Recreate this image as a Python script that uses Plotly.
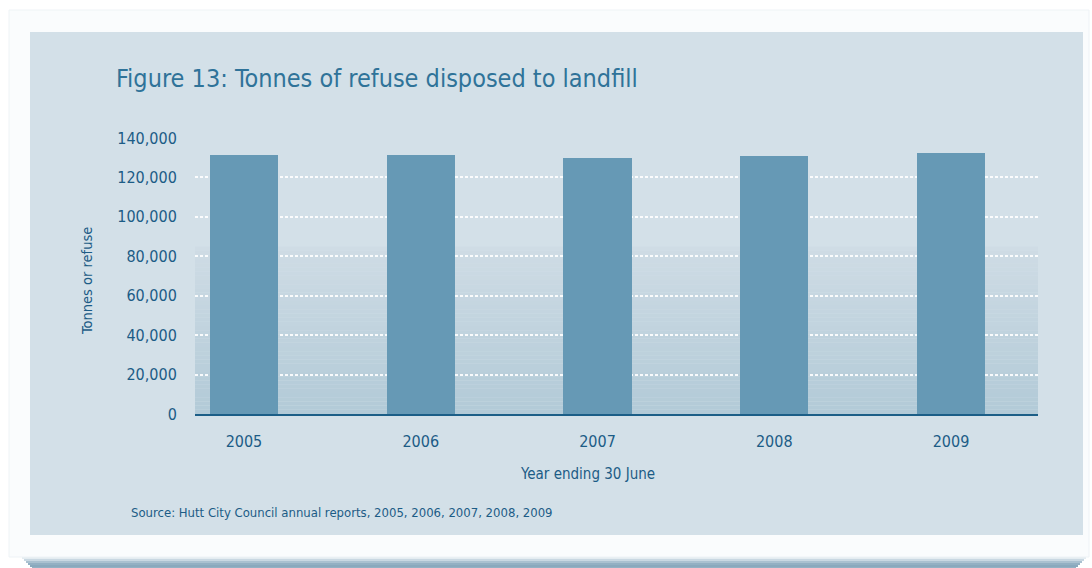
import plotly.graph_objects as go

# Annual tonnes of refuse sent to landfill (year ending 30 June)
years = ["2005", "2006", "2007", "2008", "2009"]
tonnes = [131400, 131400, 129900, 130900, 132400]
y_ticks = [0, 20000, 40000, 60000, 80000, 100000, 120000, 140000]
y_tick_labels = ["0", "20,000", "40,000", "60,000", "80,000", "100,000", "120,000", "140,000"]

FONT = "Liberation Sans Narrow, DejaVu Sans Condensed, Arial Narrow, sans-serif"
TEXT_DARK = "#1c5c86"
TITLE_COL = "#2f7399"
BAR_COL = "#6699b5"
PANEL_COL = "#d3e0e8"

W_PX, H_PX = 1092, 568
L, R, T, B = 195, 54, 138, 154
PW, PH = W_PX - L - R, H_PX - T - B


def px_x(px):
    return (px - L) / PW


def px_y(py):
    return (H_PX - B - py) / PH


def hex_rgb(h):
    h = h.lstrip("#")
    return tuple(int(h[i:i + 2], 16) for i in (0, 2, 4))


def mix(c0, c1, t):
    a, b = hex_rgb(c0), hex_rgb(c1)
    return "rgb(%d,%d,%d)" % tuple(round(a[i] + (b[i] - a[i]) * t) for i in range(3))


x_pos = list(range(len(years)))

fig = go.Figure(
    go.Bar(
        x=x_pos,
        y=tonnes,
        width=0.385,
        marker=dict(color=BAR_COL, line=dict(width=0)),
        hoverinfo="skip",
    )
)

shapes = []
# soft shadow under the white card
shadow = ["#e4ecf1", "#c9d8e2", "#aac1d0", "#93b0c3", "#8aa9bd", "#93b0c3"]
for i, c in enumerate(shadow):
    shapes.append(dict(type="rect", xref="paper", yref="paper",
                       x0=px_x(22 + i * 2), x1=px_x(1086 - i * 2),
                       y0=px_y(557 + i * 2), y1=px_y(557 + (i + 1) * 2),
                       fillcolor=c, line=dict(width=0), layer="below"))
# outer white card
shapes.append(dict(type="rect", xref="paper", yref="paper",
                   x0=px_x(9), x1=px_x(1089), y0=px_y(557), y1=px_y(10),
                   fillcolor="#fafcfd", line=dict(color="#eef3f6", width=1), layer="below"))
# chart panel
shapes.append(dict(type="rect", xref="paper", yref="paper",
                   x0=px_x(30), x1=px_x(1083), y0=px_y(535), y1=px_y(32),
                   fillcolor=PANEL_COL, line=dict(width=0), layer="below"))
# shaded lower band of the plotting area
n_bands = 40
top_val = 85000
for k in range(n_bands):
    v0 = top_val * k / n_bands
    v1 = top_val * (k + 1) / n_bands
    shapes.append(dict(type="rect", xref="x domain", yref="y",
                       x0=0, x1=1, y0=v0, y1=v1,
                       fillcolor=mix("#b2cad7", "#cfdce5", (k + 0.5) / n_bands),
                       line=dict(width=0), layer="below"))

annotations = [
    dict(text="Figure 13: Tonnes of refuse disposed to landfill",
         xref="paper", yref="paper", x=px_x(114), y=px_y(79),
         xanchor="left", yanchor="middle", showarrow=False,
         font=dict(family=FONT, size=25, color=TITLE_COL)),
    dict(text="Tonnes or refuse", textangle=-90,
         xref="paper", yref="paper", x=px_x(87), y=px_y(281),
         xanchor="center", yanchor="middle", showarrow=False,
         font=dict(family=FONT, size=14.5, color=TEXT_DARK)),
    dict(text="Year ending 30 June",
         xref="paper", yref="paper", x=px_x(587), y=px_y(474),
         xanchor="center", yanchor="middle", showarrow=False,
         font=dict(family=FONT, size=15, color=TEXT_DARK)),
    dict(text="Source: Hutt City Council annual reports, 2005, 2006, 2007, 2008, 2009",
         xref="paper", yref="paper", x=px_x(129), y=px_y(512),
         xanchor="left", yanchor="middle", showarrow=False,
         font=dict(family=FONT, size=13, color=TEXT_DARK)),
]

fig.update_layout(
    width=W_PX, height=H_PX,
    margin=dict(l=L, r=R, t=T, b=B, pad=0),
    paper_bgcolor="white",
    plot_bgcolor="rgba(0,0,0,0)",
    showlegend=False,
    shapes=shapes,
    annotations=annotations,
    bargap=0,
    xaxis=dict(
        range=[-0.277, 4.492],
        tickvals=x_pos, ticktext=years,
        showgrid=False, zeroline=False,
        showline=True, linecolor="#1b5e87", linewidth=2,
        ticks="outside", ticklen=12, tickcolor="rgba(0,0,0,0)",
        tickfont=dict(family=FONT, size=16, color=TEXT_DARK),
        fixedrange=True,
    ),
    yaxis=dict(
        range=[0, 140000],
        tickvals=y_ticks, ticktext=y_tick_labels,
        showgrid=True, gridcolor="rgba(255,255,255,0.9)", gridwidth=1.5,
        griddash="3px,2px",
        zeroline=False, showline=False,
        ticks="outside", ticklen=14, tickcolor="rgba(0,0,0,0)",
        tickfont=dict(family=FONT, size=16, color=TEXT_DARK),
        fixedrange=True,
    ),
)

fig.write_html("out.html", config=dict(displayModeBar=False))
